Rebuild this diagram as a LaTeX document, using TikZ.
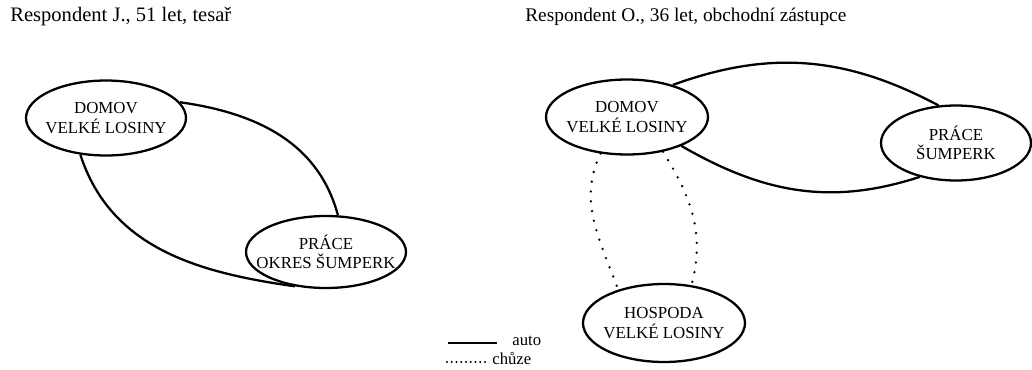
\documentclass[tikz,border=0pt]{standalone}
\usepackage{fontspec}
\setmainfont{Liberation Serif}
\usetikzlibrary{shapes.geometric,positioning}
\tikzset{
  place/.style={ellipse,draw,line width=1.3pt,inner xsep=-30pt,inner ysep=-12pt,align=center,
    minimum width=3.2cm,minimum height=1.5cm,font=\fontsize{9.6}{11}\selectfont},
  car/.style={line width=1.3pt},
  walk/.style={line width=1.5pt,line cap=round,dash pattern=on 0pt off 5.6pt},
  title/.style={anchor=west,inner sep=0pt,font=\fontsize{11}{13}\selectfont}
}
\begin{document}
\begin{tikzpicture}[x=0.02cm,y=0.02cm]
\useasboundingbox (0,0) rectangle (1032,-369);
% titles
\node[title,font=\fontsize{11.7}{13}\selectfont] (tJ) at (10,-17) {Respondent J., 51 let, tesa\v{r}};
\node[title] (tO) at (525,-17) {Respondent O., 36 let, obchodn\'{\i} z\'astupce};
% respondent J.
\node[place] (domJ) at (106,-118) {DOMOV\\VELKÉ LOSINY};
\node[place,minimum height=1.44cm] (praceJ) at (326,-252) {PRÁCE\\OKRES ŠUMPERK};
\draw[car] (domJ.12) to[out=-8,in=105] (praceJ.72);
\draw[car] (domJ.235) to[out=-72,in=172] (praceJ.228);
% respondent O.
\node[place,minimum width=3.24cm] (domO) at (627,-117) {DOMOV\\VELKÉ LOSINY};
\node[place,minimum width=3cm] (praceO) at (956,-143) {PRÁCE\\ŠUMPERK};
\node[place,minimum width=3.24cm,minimum height=1.56cm] (hosO) at (664,-323) {HOSPODA\\VELKÉ LOSINY};
\draw[car] (domO.35) to[out=20,in=152] (praceO.115);
\draw[car] (domO.332) to[out=-30,in=198] (praceO.223);
\draw[walk] (domO.234) to[out=245,in=110] (hosO.144);
\draw[walk] (domO.316) to[out=-58,in=75] (hosO.54);
% legend
\coordinate (autoA) at (448,-343);
\coordinate (autoB) at (497,-343);
\coordinate (walkA) at (447,-362);
\coordinate (walkB) at (488,-362);
\draw[car] (autoA) -- (autoB);
\draw[line width=1.3pt,line cap=round,dash pattern=on 0pt off 2.7pt] (walkA) -- (walkB);
\node[anchor=base west,inner sep=0pt,font=\fontsize{9.5}{11}\selectfont] (autoL) at (512,-345) {auto};
\node[anchor=base west,inner sep=0pt,font=\fontsize{9.5}{11}\selectfont] (walkL) at (492,-364) {chůze};
\end{tikzpicture}
\end{document}
